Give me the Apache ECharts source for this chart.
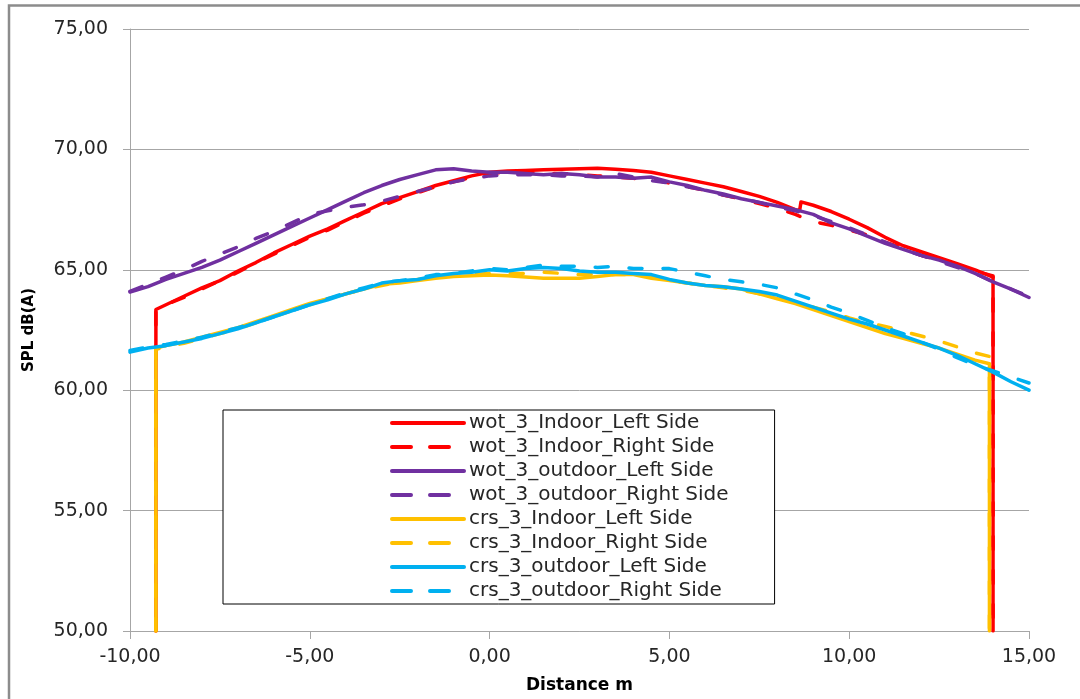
<!DOCTYPE html>
<html>
<head>
<meta charset="utf-8">
<title>SPL vs Distance</title>
<script src="https://cdn.jsdelivr.net/npm/echarts@6/dist/echarts.min.js"></script>
<style>
  html, body { margin: 0; padding: 0; background: #ffffff; }
  #chart { width: 1080px; height: 699px; }
</style>
</head>
<body>
<div id="chart"></div>
<script>
// Distance grids (m)
const distanceOutdoor = [-10, -9.5, -9, -8.5, -8, -7.5, -7, -6.5, -6, -5.5, -5, -4.5, -4, -3.5, -3, -2.5, -2, -1.5, -1, -0.5,
  0, 0.5, 1, 1.5, 2, 2.5, 3, 3.5, 4, 4.5, 5, 5.5, 6, 6.5, 7, 7.5, 8, 8.5, 9, 9.5, 10, 10.5, 11, 11.5, 12, 12.5, 13, 13.5, 14, 14.5, 15];
const distanceWotIndoorLeft = [-9.28, -9.28, -9, -8.5, -8, -7.5, -7, -6.5, -6, -5.5, -5, -4.5, -4, -3.5, -3, -2.5, -2, -1.5, -1, -0.5,
  0, 0.5, 1, 1.5, 2, 2.5, 3, 3.5, 4, 4.5, 5, 5.5, 6, 6.5, 7, 7.5, 8, 8.5, 8.62, 8.66, 9, 9.5, 10, 10.5, 11, 11.5, 12, 12.5, 13, 13.5, 14.0, 14.0];
const distanceWotIndoorRight = [-9.28, -9.28, -9, -8.5, -8, -7.5, -7, -6.5, -6, -5.5, -5, -4.5, -4, -3.5, -3, -2.5, -2, -1.5, -1, -0.5,
  0, 0.5, 1, 1.5, 2, 2.5, 3, 3.5, 4, 4.5, 5, 5.5, 6, 6.5, 7, 7.5, 8, 8.5, 9, 9.5, 10, 10.5, 11, 11.5, 12, 12.5, 13, 13.5, 14.0, 14.0];
const distanceCrsIndoor = [-9.28, -9.28, -9, -8.5, -8, -7.5, -7, -6.5, -6, -5.5, -5, -4.5, -4, -3.5, -3, -2.5, -2, -1.5, -1, -0.5,
  0, 0.5, 1, 1.5, 2, 2.5, 3, 3.5, 4, 4.5, 5, 5.5, 6, 6.5, 7, 7.5, 8, 8.5, 9, 9.5, 10, 10.5, 11, 11.5, 12, 12.5, 13, 13.5, 13.9, 13.9];

// SPL dB(A) values
const wotIndoorLeft = [50, 63.35, 63.55, 63.9, 64.25, 64.55, 64.95, 65.3, 65.7, 66.05, 66.4, 66.7, 67.05, 67.4, 67.75, 68.0, 68.25, 68.5, 68.7, 68.9,
  69.05, 69.1, 69.12, 69.15, 69.18, 69.2, 69.22, 69.18, 69.12, 69.05, 68.9, 68.75, 68.6, 68.45, 68.25, 68.05, 67.8, 67.5, 67.45, 67.82,
  67.68, 67.42, 67.1, 66.75, 66.35, 66.0, 65.75, 65.5, 65.25, 65.0, 64.7, 50];
const wotIndoorRight = [50, 63.4, 63.55, 63.85, 64.2, 64.55, 64.9, 65.3, 65.65, 66.0, 66.35, 66.65, 67.0, 67.35, 67.65, 67.95, 68.2, 68.45, 68.65, 68.85,
  69.0, 69.05, 69.05, 69.0, 69.0, 68.95, 68.9, 68.85, 68.8, 68.75, 68.6, 68.45, 68.3, 68.1, 67.95, 67.75, 67.55, 67.3, 67.0, 66.85,
  66.65, 66.45, 66.15, 65.9, 65.6, 65.4, 65.15, 64.95, 64.75, 50];
const wotOutdoorLeft = [64.08, 64.3, 64.6, 64.85, 65.1, 65.4, 65.75, 66.1, 66.45, 66.8, 67.15, 67.5, 67.85, 68.2, 68.5, 68.75, 68.95, 69.15, 69.2, 69.1,
  69.05, 69.05, 69.0, 68.95, 69.0, 68.95, 68.85, 68.85, 68.8, 68.85, 68.65, 68.5, 68.3, 68.15, 67.95, 67.8, 67.65, 67.5, 67.3, 66.95,
  66.7, 66.4, 66.1, 65.85, 65.6, 65.4, 65.15, 64.85, 64.5, 64.2, 63.85];
const wotOutdoorRight = [64.1, 64.4, 64.7, 65.0, 65.35, 65.65, 65.95, 66.3, 66.6, 66.95, 67.3, 67.45, 67.6, 67.7, 67.85, 68.05, 68.25, 68.45, 68.65, 68.8,
  68.9, 68.95, 68.95, 68.95, 68.9, 68.9, 68.85, 69.0, 68.85, 68.7, 68.6, 68.45, 68.3, 68.1, 67.95, 67.8, 67.6, 67.45, 67.25, 67.0,
  66.75, 66.45, 66.15, 65.85, 65.6, 65.35, 65.1, 64.85, 64.5, 64.2, 63.9];
const crsIndoorLeft = [50, 61.75, 61.85, 62.0, 62.2, 62.4, 62.6, 62.85, 63.1, 63.35, 63.6, 63.8, 64.0, 64.2, 64.4, 64.45, 64.55, 64.65, 64.72, 64.75,
  64.78, 64.75, 64.7, 64.65, 64.65, 64.65, 64.72, 64.8, 64.8, 64.65, 64.55, 64.45, 64.35, 64.3, 64.2, 64.0, 63.8, 63.6, 63.35, 63.1,
  62.85, 62.6, 62.35, 62.15, 61.95, 61.75, 61.5, 61.25, 61.1, 50];
const crsIndoorRight = [50, 61.7, 61.8, 61.95, 62.15, 62.35, 62.55, 62.8, 63.05, 63.3, 63.55, 63.8, 64.0, 64.2, 64.35, 64.5, 64.6, 64.7, 64.75, 64.8,
  64.85, 64.85, 64.85, 64.9, 64.85, 64.8, 64.8, 64.8, 64.8, 64.7, 64.55, 64.45, 64.35, 64.25, 64.15, 64.0, 63.85, 63.65, 63.45, 63.25,
  63.0, 62.8, 62.65, 62.45, 62.25, 62.05, 61.8, 61.55, 61.4, 50];
const crsOutdoorLeft = [61.58, 61.75, 61.85, 62.0, 62.15, 62.35, 62.55, 62.8, 63.05, 63.3, 63.55, 63.75, 64.0, 64.2, 64.45, 64.55, 64.6, 64.75, 64.85, 64.9,
  65.0, 64.95, 65.05, 65.1, 65.05, 64.95, 64.9, 64.9, 64.85, 64.8, 64.6, 64.45, 64.35, 64.3, 64.2, 64.1, 63.95, 63.7, 63.45, 63.2,
  62.95, 62.75, 62.5, 62.25, 62.0, 61.75, 61.45, 61.1, 60.75, 60.35, 60.0];
const crsOutdoorRight = [61.65, 61.8, 61.9, 62.05, 62.2, 62.4, 62.6, 62.8, 63.05, 63.3, 63.55, 63.8, 64.05, 64.25, 64.45, 64.55, 64.65, 64.8, 64.85, 64.95,
  65.05, 65.0, 65.1, 65.2, 65.15, 65.15, 65.1, 65.15, 65.05, 65.05, 65.05, 64.9, 64.75, 64.6, 64.5, 64.4, 64.25, 64.0, 63.75, 63.45,
  63.2, 62.9, 62.6, 62.35, 62.0, 61.7, 61.35, 61.05, 60.8, 60.55, 60.3];

const seriesNames = [
  'wot_3_Indoor_Left Side', 'wot_3_Indoor_Right Side',
  'wot_3_outdoor_Left Side', 'wot_3_outdoor_Right Side',
  'crs_3_Indoor_Left Side', 'crs_3_Indoor_Right Side',
  'crs_3_outdoor_Left Side', 'crs_3_outdoor_Right Side'
];
const seriesColors = ['#FF0000', '#FF0000', '#7030A0', '#7030A0', '#FFC000', '#FFC000', '#00B0F0', '#00B0F0'];
const seriesDashed = [false, true, false, true, false, true, false, true];
const seriesX = [distanceWotIndoorLeft, distanceWotIndoorRight, distanceOutdoor, distanceOutdoor,
  distanceCrsIndoor, distanceCrsIndoor, distanceOutdoor, distanceOutdoor];
const seriesY = [wotIndoorLeft, wotIndoorRight, wotOutdoorLeft, wotOutdoorRight,
  crsIndoorLeft, crsIndoorRight, crsOutdoorLeft, crsOutdoorRight];

const yTicks = { min: 50, max: 75, interval: 5 };
const xTicks = { min: -10, max: 15, interval: 5 };

const FONT = 'DejaVu Sans';
const fmt = v => v.toFixed(2).replace('.', ',');

const series = seriesNames.map((name, i) => ({
  name: name,
  type: 'line',
  data: seriesX[i].map((x, k) => [x, seriesY[i][k]]),
  symbol: 'none',
  showSymbol: false,
  smooth: false,
  clip: true,
  animation: false,
  itemStyle: { color: seriesColors[i] },
  lineStyle: {
    color: seriesColors[i],
    width: 3.5,
    type: seriesDashed[i] ? [13, 21] : 'solid',
    cap: 'round',
    join: 'round'
  },
  emphasis: { disabled: true }
}));

const chart = echarts.init(document.getElementById('chart'), null, { renderer: 'canvas' });
chart.setOption({
  backgroundColor: '#ffffff',
  animation: false,
  graphic: [{
    type: 'rect',
    shape: { x: 9, y: 5.5, width: 1100, height: 720 },
    style: { fill: 'none', stroke: '#8c8c8c', lineWidth: 2.5 },
    silent: true,
    z: -1
  }],
  grid: { left: 130, right: 51, top: 29, bottom: 68, containLabel: false },
  legend: {
    orient: 'vertical',
    left: 223,
    top: 410,
    padding: [1, 46, 1, 167],
    borderColor: '#000000',
    borderWidth: 1,
    backgroundColor: '#ffffff',
    itemWidth: 72,
    itemHeight: 12,
    itemGap: 0,
    selectedMode: false,
    itemStyle: { opacity: 0, borderWidth: 0 },
    textStyle: { fontFamily: FONT, fontSize: 20, lineHeight: 24, color: '#262626' },
    data: seriesNames.map((name, i) => ({
      name: name,
      itemStyle: { opacity: 0, borderWidth: 0 },
      lineStyle: { type: seriesDashed[i] ? [19, 19] : 'solid', width: 4, cap: 'round', opacity: 1 }
    }))
  },
  xAxis: {
    type: 'value',
    min: xTicks.min,
    max: xTicks.max,
    interval: xTicks.interval,
    name: 'Distance m',
    nameLocation: 'middle',
    nameGap: 46,
    nameTextStyle: { fontFamily: FONT, fontSize: 17, fontWeight: 'bold', color: '#000000' },
    axisLine: { show: true, onZero: false, lineStyle: { color: '#a6a6a6', width: 1 } },
    axisTick: { show: true, length: 8, lineStyle: { color: '#a6a6a6' } },
    axisLabel: { formatter: fmt, fontFamily: FONT, fontSize: 19, color: '#262626', margin: 17, showMinLabel: true, showMaxLabel: true },
    splitLine: { show: false }
  },
  yAxis: {
    type: 'value',
    min: yTicks.min,
    max: yTicks.max,
    interval: yTicks.interval,
    name: 'SPL dB(A)',
    nameLocation: 'middle',
    nameGap: 93,
    nameTextStyle: { fontFamily: FONT, fontSize: 15, fontWeight: 'bold', color: '#000000' },
    axisLine: { show: true, onZero: false, lineStyle: { color: '#a6a6a6', width: 1 } },
    axisTick: { show: true, length: 7, lineStyle: { color: '#a6a6a6' } },
    axisLabel: { formatter: fmt, fontFamily: FONT, fontSize: 19, color: '#262626', margin: 22, showMinLabel: true, showMaxLabel: true },
    splitLine: { show: true, lineStyle: { color: '#a6a6a6', width: 1 } }
  },
  series: series
});
</script>
</body>
</html>
